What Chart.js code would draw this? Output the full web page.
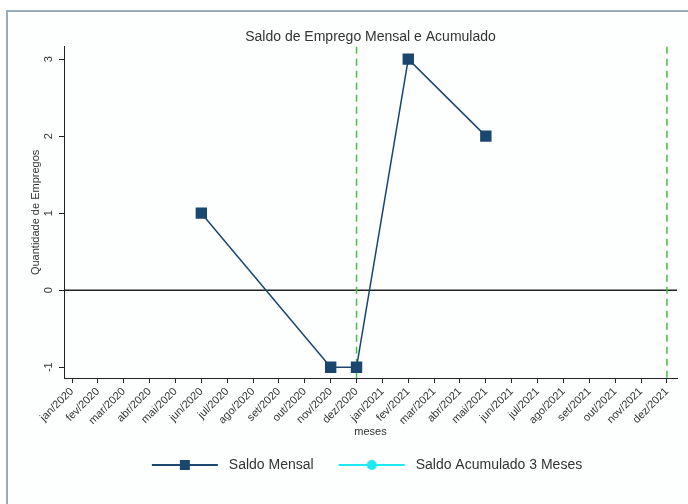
<!DOCTYPE html>
<html>
<head>
<meta charset="utf-8">
<title>Saldo de Emprego Mensal e Acumulado</title>
<script src="https://cdn.jsdelivr.net/npm/chart.js@4"></script>
<style>
  html, body { margin: 0; padding: 0; background: #fff; }
  #wrap { position: relative; width: 688px; height: 504px; overflow: hidden; }
  #frame {
    position: absolute; left: 6px; top: 10px; width: 700px; height: 520px;
    border: 2px solid #9aabbd; background: #fdfefe;
  }
  #chart { position: absolute; left: 0; top: 0; }
</style>
</head>
<body>
<div id="wrap">
  <div id="frame"></div>
  <canvas id="chart" width="688" height="504"></canvas>
</div>
<script>
const MONTHS = [
  'jan/2020', 'fev/2020', 'mar/2020', 'abr/2020', 'mai/2020', 'jun/2020',
  'jul/2020', 'ago/2020', 'set/2020', 'out/2020', 'nov/2020', 'dez/2020',
  'jan/2021', 'fev/2021', 'mar/2021', 'abr/2021', 'mai/2021', 'jun/2021',
  'jul/2021', 'ago/2021', 'set/2021', 'out/2021', 'nov/2021', 'dez/2021',
];

const SALDO_MENSAL = [
  null, null, null, null, null, 1,
  null, null, null, null, -1, -1,
  null, 3, null, null, 2, null,
  null, null, null, null, null, null,
];

// nothing is plotted for this series in the reference, only its legend key
const SALDO_ACUM_3M = [
  null, null, null, null, null, null,
  null, null, null, null, null, null,
  null, null, null, null, null, null,
  null, null, null, null, null, null,
];

const Y_TICKS = [-1, 0, 1, 2, 3];
const DASHED_MONTHS = ['dez/2020', 'dez/2021'];

const NAVY = '#1a476f';
const CYAN = '#1ee8f0';
const FONT = "'Liberation Sans', Arial, sans-serif";
const TEXT = '#333';

// legend keys: a line with the marker in the middle, like Stata draws it
function legendIcon(color, marker) {
  const c = document.createElement('canvas');
  c.width = 85;
  c.height = 14;
  const g = c.getContext('2d');
  g.strokeStyle = color;
  g.fillStyle = color;
  g.lineWidth = 2;
  g.beginPath();
  g.moveTo(15, 7);
  g.lineTo(81, 7);
  g.stroke();
  if (marker === 'rect') {
    g.fillRect(43, 2, 10, 10);
  } else {
    g.beginPath();
    g.arc(48, 7, 5, 0, Math.PI * 2);
    g.fill();
  }
  return c;
}

const refLines = {
  id: 'refLines',
  beforeDatasetsDraw(chart) {
    const { ctx, chartArea: a, scales: { x, y } } = chart;
    ctx.save();
    ctx.strokeStyle = '#222';
    ctx.lineWidth = 1.5;
    const y0 = y.getPixelForValue(0);
    ctx.beginPath();
    ctx.moveTo(a.left, y0);
    ctx.lineTo(a.right, y0);
    ctx.stroke();

    ctx.strokeStyle = '#44c044';
    ctx.lineWidth = 1.5;
    ctx.setLineDash([7, 5]);
    DASHED_MONTHS.forEach((m) => {
      const px = x.getPixelForValue(MONTHS.indexOf(m));
      ctx.beginPath();
      ctx.moveTo(px, a.top);
      ctx.lineTo(px, a.bottom + 2);
      ctx.stroke();
    });
    ctx.restore();
  },
};

// the legend sits a little left of the plot centre in the original
const legendShift = {
  id: 'legendShift',
  afterLayout(chart) {
    chart.legend.left -= 11;
    chart.legend.right -= 11;
  },
};

const icons = [legendIcon(NAVY, 'rect'), legendIcon(CYAN, 'circle')];

const ctx = document.getElementById('chart').getContext('2d');
new Chart(ctx, {
  type: 'line',
  data: {
    datasets: [
      {
        label: 'Saldo Mensal',
        data: SALDO_MENSAL.map((v, i) => ({ x: i, y: v })),
        borderColor: NAVY,
        backgroundColor: NAVY,
        borderWidth: 1.5,
        pointStyle: 'rect',
        pointRadius: 7,
        pointBackgroundColor: NAVY,
        pointBorderColor: NAVY,
        spanGaps: true,
      },
      {
        label: 'Saldo Acumulado 3 Meses',
        data: SALDO_ACUM_3M.map((v, i) => ({ x: i, y: v })),
        borderColor: CYAN,
        backgroundColor: CYAN,
        borderWidth: 1.5,
        pointStyle: 'circle',
        pointRadius: 4,
        spanGaps: true,
      },
    ],
  },
  options: {
    responsive: false,
    animation: false,
    layout: { padding: { top: 26, left: 10, right: 11, bottom: 22 } },
    scales: {
      x: {
        type: 'linear',
        min: -0.31,
        max: 23.39,
        afterBuildTicks: (s) => { s.ticks = MONTHS.map((m, i) => ({ value: i })); },
        afterFit: (s) => { s.height = 70; },
        grid: { drawOnChartArea: false, tickLength: 5, tickColor: '#222' },
        border: { color: '#222', width: 1 },
        ticks: {
          autoSkip: false,
          minRotation: 45,
          maxRotation: 45,
          padding: 2,
          color: TEXT,
          font: { family: FONT, size: 11 },
          callback: (value) => MONTHS[value],
        },
        title: {
          display: true,
          text: 'meses',
          color: TEXT,
          font: { family: FONT, size: 11 },
          padding: { top: 0, bottom: 9 },
        },
      },
      y: {
        min: -1.14,
        max: 3.16,
        afterBuildTicks: (s) => { s.ticks = Y_TICKS.map((v) => ({ value: v })); },
        afterFit: (s) => { s.width = 54; },
        grid: { drawOnChartArea: false, tickLength: 5, tickColor: '#222' },
        border: { color: '#222', width: 1 },
        ticks: {
          minRotation: 90,
          maxRotation: 90,
          crossAlign: 'center',
          padding: 5,
          color: TEXT,
          font: { family: FONT, size: 11 },
        },
        title: {
          display: true,
          text: 'Quantidade de Empregos',
          color: TEXT,
          font: { family: FONT, size: 11 },
          padding: { top: 19, bottom: 0 },
        },
      },
    },
    plugins: {
      title: {
        display: true,
        fullSize: false,
        text: 'Saldo de Emprego Mensal e Acumulado',
        color: TEXT,
        font: { family: FONT, size: 14, weight: 'normal' },
        padding: { top: 3, bottom: 1 },
      },
      legend: {
        position: 'bottom',
        fullSize: false,
        labels: {
          usePointStyle: true,
          pointStyleWidth: 85,
          padding: 10,
          color: TEXT,
          font: { family: FONT, size: 14 },
          generateLabels: (chart) => chart.data.datasets.map((ds, i) => ({
            text: ds.label,
            pointStyle: icons[i],
            fillStyle: ds.borderColor,
            strokeStyle: ds.borderColor,
            lineWidth: 0,
            hidden: false,
            datasetIndex: i,
            fontColor: TEXT,
          })),
        },
      },
      tooltip: { enabled: false },
    },
  },
  plugins: [refLines, legendShift],
});
</script>
</body>
</html>
